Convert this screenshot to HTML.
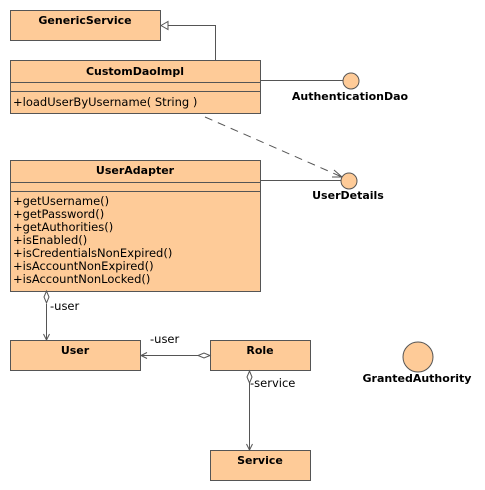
<!DOCTYPE html>
<html><head><style>
body{margin:0;background:#fff;width:485px;height:490px;overflow:hidden}
svg{display:block}
text{font-family:"DejaVu Sans","Liberation Sans",sans-serif;font-size:11.5px;fill:#000}
.b{font-weight:bold;font-size:11px}
</style></head><body>
<svg width="485" height="490" viewBox="0 0 485 490">
<g fill="#fecb98" stroke="#555" stroke-width="1">
<rect x="10.5" y="10.5" width="150" height="30"/>
<rect x="10.5" y="60.5" width="250" height="53"/>
<line x1="10.5" y1="82.5" x2="260.5" y2="82.5"/>
<line x1="10.5" y1="91.5" x2="260.5" y2="91.5"/>
<rect x="10.5" y="160.5" width="250" height="131"/>
<line x1="10.5" y1="182.5" x2="260.5" y2="182.5"/>
<line x1="10.5" y1="191.5" x2="260.5" y2="191.5"/>
<rect x="10.5" y="340.5" width="130" height="30"/>
<rect x="210.5" y="340.5" width="100" height="30"/>
<rect x="210.5" y="450.5" width="100" height="30"/>
</g>
<g stroke="#555" fill="none" stroke-width="1">
<polyline points="215.5,60 215.5,25.5 168,25.5"/>
<polygon points="161,25.5 168,21.5 168,29.5" fill="#fff"/>
<line x1="260" y1="80.5" x2="344" y2="80.5"/>
<line x1="260" y1="180.5" x2="341" y2="180.5"/>
<line x1="205" y1="117" x2="342" y2="177" stroke-dasharray="8,6"/>
<polyline points="334,170 342,177 332,177"/>
<line x1="46.5" y1="304" x2="46.5" y2="340"/>
<polygon points="46.5,291 49,297 46.5,303 44,297" fill="#fff"/>
<polyline points="43.5,334 46.5,340 49.5,334"/>
<line x1="141" y1="355.5" x2="198" y2="355.5"/>
<polygon points="210,355.5 204,358 198,355.5 204,353" fill="#fff"/>
<polyline points="147,352.5 141,355.5 147,358.5"/>
<line x1="249.5" y1="383" x2="249.5" y2="450"/>
<polygon points="249.5,371 252,377 249.5,383 247,377" fill="#fff"/>
<polyline points="246.5,444 249.5,450 252.5,444"/>
</g>
<g fill="#fecb98" stroke="#555">
<circle cx="351" cy="81" r="8"/>
<circle cx="349" cy="181" r="8"/>
<circle cx="418" cy="357" r="15"/>
</g>
<text class="b" x="85" y="24" text-anchor="middle">GenericService</text>
<text class="b" x="135" y="75" text-anchor="middle">CustomDaoImpl</text>
<text x="13" y="106">+loadUserByUsername( String )</text>
<text class="b" x="135" y="174" text-anchor="middle">UserAdapter</text>
<text x="13" y="205">+getUsername()</text>
<text x="13" y="218">+getPassword()</text>
<text x="13" y="231">+getAuthorities()</text>
<text x="13" y="244">+isEnabled()</text>
<text x="13" y="257">+isCredentialsNonExpired()</text>
<text x="13" y="270">+isAccountNonExpired()</text>
<text x="13" y="283">+isAccountNonLocked()</text>
<text class="b" x="75" y="354" text-anchor="middle">User</text>
<text class="b" x="260" y="354" text-anchor="middle">Role</text>
<text class="b" x="260" y="464" text-anchor="middle">Service</text>
<text class="b" x="350" y="100" text-anchor="middle">AuthenticationDao</text>
<text class="b" x="348" y="199" text-anchor="middle">UserDetails</text>
<text class="b" x="417" y="382" text-anchor="middle">GrantedAuthority</text>
<text x="50" y="310">-user</text>
<text x="150" y="343">-user</text>
<text x="250" y="387">-service</text>
</svg>
</body></html>
